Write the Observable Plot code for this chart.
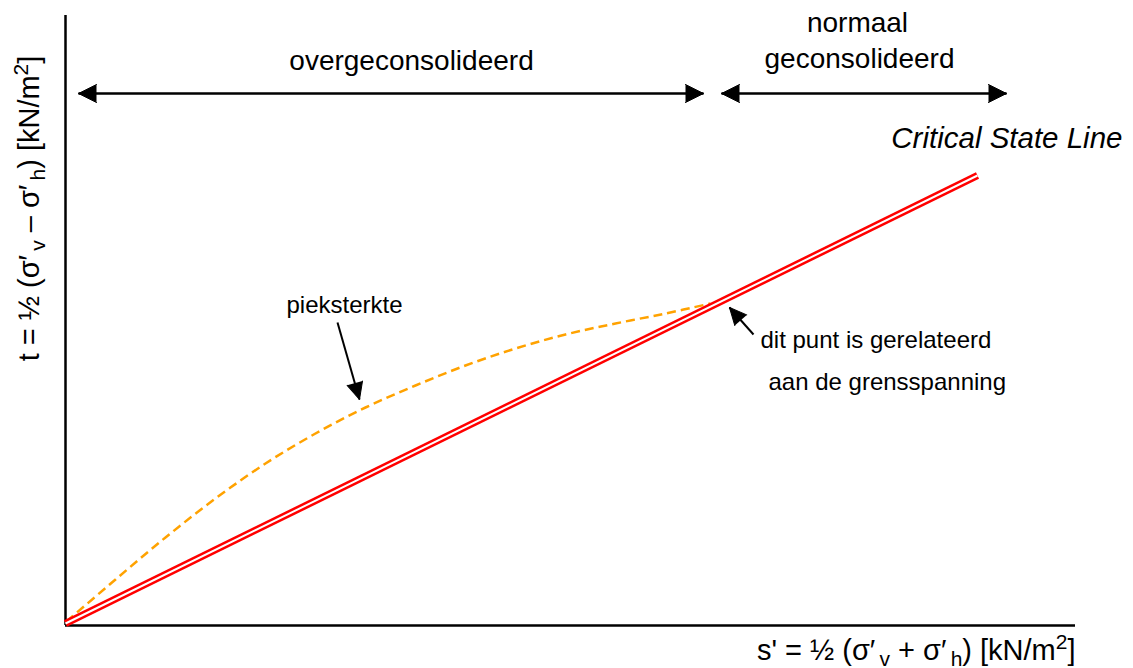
<!DOCTYPE html>
<html><head><meta charset="utf-8">
<script src="https://cdn.jsdelivr.net/npm/d3@7"></script>
<script src="https://cdn.jsdelivr.net/npm/@observablehq/plot@0.6"></script>
<style>body{margin:0;background:#fff;font-family:"Liberation Sans",Arial,sans-serif}</style>
</head><body><div id="chart"></div>
<script>
// Critical State Line (s', t)
const cslS = [0, 912];
const cslT = [2, 450];
// peak strength curve (pieksterkte)
const peakS = [1, 50, 100, 150, 200, 250, 300, 350, 400, 450, 500, 550, 600, 645];
const peakT = [4, 46, 88, 127, 162, 192, 218, 240, 260, 277, 291, 302, 312, 322];

// annotation arrows: start -> tip, with head at tip
const arrowX1 = [13, 638, 656, 941, 272, 688];
const arrowY1 = [532, 532, 532, 532, 303, 291];
const arrowX2 = [638, 13, 941, 656, 294, 664];
const arrowY2 = [532, 532, 532, 532, 226, 318];
const headLen = [18, 18, 18, 18, 17, 17];
const headR = [9, 9, 9, 9, 8, 8];

// labels
const labelText = ["overgeconsolideerd", "normaal", "geconsolideerd", "Critical State Line", "pieksterkte", "dit punt is gerelateerd", "aan de grensspanning"];
const labelX = [346, 792, 794, 1057, 279, 695, 703];
const labelY = [564, 602, 566, 487, 320, 285, 243];
const labelSize = [28, 28, 28, 29.5, 24, 24, 24];
const labelAnchor = ["middle", "middle", "middle", "end", "middle", "start", "start"];
const labelStyle = ["normal", "normal", "normal", "italic", "normal", "normal", "normal"];

const xTitle = "s' = ½ (σ′_{v} + σ′_{h}) [kN/m^{2}]";
const yTitle = "t = ½ (σ′_{v} – σ′_{h}) [kN/m^{2}]";

const csl = cslS.map((s, i) => ({s, t: cslT[i]}));
const peak = peakS.map((s, i) => ({s, t: peakT[i]}));
const arrows = arrowX1.map((x1, i) => ({x1, y1: arrowY1[i], x2: arrowX2[i], y2: arrowY2[i], l: headLen[i], r: headR[i],
  rot: Math.atan2(arrowX2[i] - x1, arrowY2[i] - arrowY1[i]) * 180 / Math.PI}));
const labels = labelText.map((text, i) => ({text, x: labelX[i], y: labelY[i], size: labelSize[i], anchor: labelAnchor[i], style: labelStyle[i]}));

const textMarks = labels.map(d => Plot.text([d], {x: "x", y: "y", text: "text", fontSize: d.size, textAnchor: d.anchor, fontStyle: d.style, fill: "black", lineAnchor: "middle"}));
const headMarks = arrows.map(d => Plot.vector([d], {x: "x2", y: "y2", rotate: "rot", length: d.l, r: d.r, shape: "spike", anchor: "end", fill: "black", stroke: "black", strokeWidth: 1}));

const plot = Plot.plot({
  width: 1133, height: 668,
  marginLeft: 65, marginRight: 58, marginTop: 15, marginBottom: 43,
  x: {domain: [0, 1010], axis: null},
  y: {domain: [0, 610], axis: null},
  style: {fontFamily: "'Liberation Sans', Arial, sans-serif", background: "white", overflow: "visible"},
  marks: [
    Plot.ruleX([0], {y1: 0, y2: 610, stroke: "black", strokeWidth: 2.5}),
    Plot.ruleY([0], {x1: 0, x2: 1010, stroke: "black", strokeWidth: 2.5}),
    Plot.line(peak, {x: "s", y: "t", curve: "catmull-rom", stroke: "#ffa200", strokeWidth: 2.5, strokeDasharray: "9,5", strokeLinecap: "butt"}),
    Plot.line(csl, {x: "s", y: "t", stroke: "#ff0000", strokeWidth: 7, strokeLinecap: "butt"}),
    Plot.line(csl, {x: "s", y: "t", stroke: "white", strokeWidth: 2, strokeLinecap: "butt"}),
    Plot.link(arrows, {x1: "x1", y1: "y1", x2: "x2", y2: "y2", stroke: "black", strokeWidth: 2}),
    ...headMarks,
    ...textMarks,
    Plot.text([{x: 1010, y: -25, text: xTitle}], {x: "x", y: "y", text: "text", textAnchor: "end", fontSize: 29, fill: "black", lineAnchor: "middle"}),
    Plot.text([{x: -36, y: 417, text: yTitle}], {x: "x", y: "y", text: "text", rotate: -90, textAnchor: "middle", fontSize: 29, fill: "black", lineAnchor: "middle"})
  ]
});
document.getElementById("chart").appendChild(plot);

// render _{..} as subscripts and ^{..} as superscripts
plot.querySelectorAll("text").forEach(t => {
  const s = t.textContent;
  if (!/[_^]\{/.test(s)) return;
  while (t.firstChild) t.removeChild(t.firstChild);
  const parts = s.split(/(_\{[^}]*\}|\^\{[^}]*\})/).filter(p => p.length);
  let shift = 0;
  parts.forEach(p => {
    const ts = document.createElementNS("http://www.w3.org/2000/svg", "tspan");
    let target = 0;
    if (p.startsWith("_{")) { p = "\u2009" + p.slice(2, -1); target = 6; ts.setAttribute("font-size", "21"); }
    else if (p.startsWith("^{")) { p = p.slice(2, -1); target = -11; ts.setAttribute("font-size", "21"); }
    if (target !== shift) { ts.setAttribute("dy", String(target - shift)); shift = target; }
    ts.textContent = p;
    t.appendChild(ts);
  });
});
</script>
</body></html>
